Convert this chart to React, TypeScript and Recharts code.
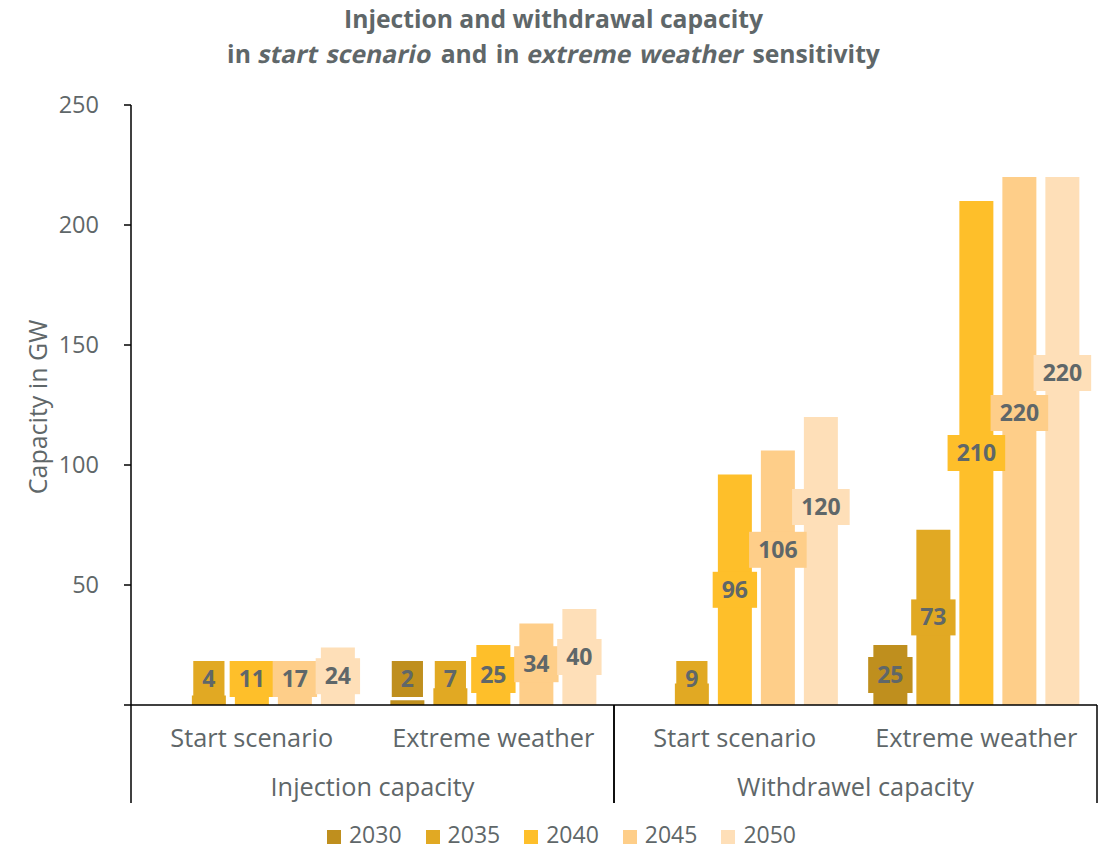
import React from 'react';
import { BarChart, Bar, XAxis, YAxis, Legend, LabelList } from 'recharts';

// Scenario labels (first axis level) and their parent groups (second level)
const scenarios = ['Start scenario', 'Extreme weather', 'Start scenario', 'Extreme weather'];
const groups = ['Injection capacity', 'Withdrawel capacity'];

// Capacity in GW per year, one value per scenario
const years = ['2030', '2035', '2040', '2045', '2050'];
const cap2030 = [null, 2, null, 25];
const cap2035 = [4, 7, 9, 73];
const cap2040 = [11, 25, 96, 210];
const cap2045 = [17, 34, 106, 220];
const cap2050 = [24, 40, 120, 220];
const yTicks = [0, 50, 100, 150, 200, 250];

const colors: Record<string, string> = {
  '2030': '#BF8F1E',
  '2035': '#E1A923',
  '2040': '#FEBF2A',
  '2045': '#FECE89',
  '2050': '#FEDFB8',
};

// labels that were lifted by hand so they don't collide (px)
const labelLift: Record<string, number[]> = {
  '2045': [0, 0, 28, 28],
  '2050': [0, 0, 54, 68],
};

const data = scenarios.map((s, i) => ({
  id: i,
  '2030': cap2030[i],
  '2035': cap2035[i],
  '2040': cap2040[i],
  '2045': cap2045[i],
  '2050': cap2050[i],
}));

const FONT = "'Open Sans', sans-serif";
const GREY = '#5F6769';
const W = 1107;
const H = 851;
const PLOT_LEFT = 131;
const PLOT_RIGHT = 1097;
const BAND = (PLOT_RIGHT - PLOT_LEFT) / scenarios.length;

function CategoryTick(props: any) {
  const { x, y, payload } = props;
  const i = Number(payload.value);
  const first = i % 2 === 0;
  return (
    <g>
      <text x={x} y={y + 42} textAnchor="middle" fill={GREY} fontSize={25.3} fontFamily={FONT}>
        {scenarios[i]}
      </text>
      {first && (
        <>
          <line x1={x - BAND / 2} x2={x - BAND / 2} y1={y} y2={y + 98} stroke="#000" strokeWidth={1.5} />
          <text x={x + BAND / 2} y={y + 91} textAnchor="middle" fill={GREY} fontSize={25.3} fontFamily={FONT}>
            {groups[i / 2]}
          </text>
        </>
      )}
      {!first && (
        <line x1={x + BAND / 2} x2={x + BAND / 2} y1={y} y2={y + 98} stroke="#000" strokeWidth={1.5} />
      )}
    </g>
  );
}

const makeLabel = (year: string) => (props: any) => {
  const { x, y, width, height, value, index } = props;
  if (value == null) return null;
  const text = String(value);
  const w = text.length * 13.2 + 18;
  const h = 36;
  const cx = x + width / 2;
  let cy = Math.min(y + height / 2, y + height - 26);
  cy -= labelLift[year]?.[index] ?? 0;
  return (
    <g>
      <rect x={cx - w / 2} y={cy - h / 2} width={w} height={h} fill={colors[year]} />
      <text x={cx} y={cy + 8} textAnchor="middle" fill={GREY} fontSize={23} fontWeight={700} fontFamily={FONT}>
        {text}
      </text>
    </g>
  );
};

function YearLegend() {
  return (
    <div style={{ display: 'flex', justifyContent: 'center', paddingLeft: 16, fontFamily: FONT }}>
      {years.map((yr, i) => (
        <div key={yr} style={{ display: 'flex', alignItems: 'center', marginRight: i < years.length - 1 ? 24 : 0 }}>
          <span style={{ width: 14, height: 14, background: colors[yr], display: 'inline-block', marginRight: 8, marginTop: 5 }} />
          <span style={{ fontSize: 23, color: GREY, lineHeight: '23px' }}>{yr}</span>
        </div>
      ))}
    </div>
  );
}

// slanted words in the subtitle, keeping the upright bold width
const Slant = ({ children }: { children: React.ReactNode }) => (
  <span style={{ display: 'inline-block', transform: 'skewX(-12deg)' }}>{children}</span>
);

const YTitle = () => (
  <text
    transform="translate(37,407) rotate(-90)"
    textAnchor="middle"
    dominantBaseline="central"
    fill={GREY}
    fontSize={25}
    fontFamily={FONT}
  >
    Capacity in GW
  </text>
);

export default function App() {
  return (
    <div style={{ position: 'absolute', left: 0, top: 0, width: W, height: H, background: '#fff' }}>
      <div
        style={{
          position: 'absolute',
          top: 1,
          left: 0,
          width: W,
          textAlign: 'center',
          fontFamily: FONT,
          fontWeight: 700,
          fontSize: 24.7,
          lineHeight: '35px',
          color: GREY,
        }}
      >
        <div>Injection and withdrawal capacity</div>
        <div style={{ wordSpacing: 2 }}>
          in <Slant>start scenario</Slant> and in <Slant>extreme weather</Slant> sensitivity
        </div>
      </div>
      <BarChart
        width={W}
        height={H}
        data={data}
        margin={{ top: 105, right: W - PLOT_RIGHT, left: 0, bottom: 0 }}
        barCategoryGap="7.4%"
        barGap={9}
      >
        <XAxis
          dataKey="id"
          height={146}
          axisLine={{ stroke: '#000', strokeWidth: 1.5 }}
          tickLine={false}
          tickSize={0}
          tickMargin={0}
          interval={0}
          tick={<CategoryTick />}
        />
        <YAxis
          width={PLOT_LEFT}
          domain={[0, 250]}
          ticks={yTicks}
          interval={0}
          axisLine={{ stroke: '#000', strokeWidth: 1.5 }}
          tickLine={{ stroke: '#000', strokeWidth: 1.5 }}
          tickSize={7}
          tickMargin={25}
          tickFormatter={(v: number) => (v === 0 ? '' : String(v))}
          tick={{ fill: GREY, fontSize: 23.5, fontFamily: FONT }}
          label={{ content: () => <YTitle /> }}
        />
        <Legend
          layout="horizontal"
          verticalAlign="middle"
          wrapperStyle={{ top: 823, left: 0, width: W }}
          content={<YearLegend />}
        />
        {years.map((yr) => (
          <Bar key={yr} dataKey={yr} name={yr} fill={colors[yr]} isAnimationActive={false}>
            <LabelList dataKey={yr} content={makeLabel(yr)} />
          </Bar>
        ))}
      </BarChart>
    </div>
  );
}
